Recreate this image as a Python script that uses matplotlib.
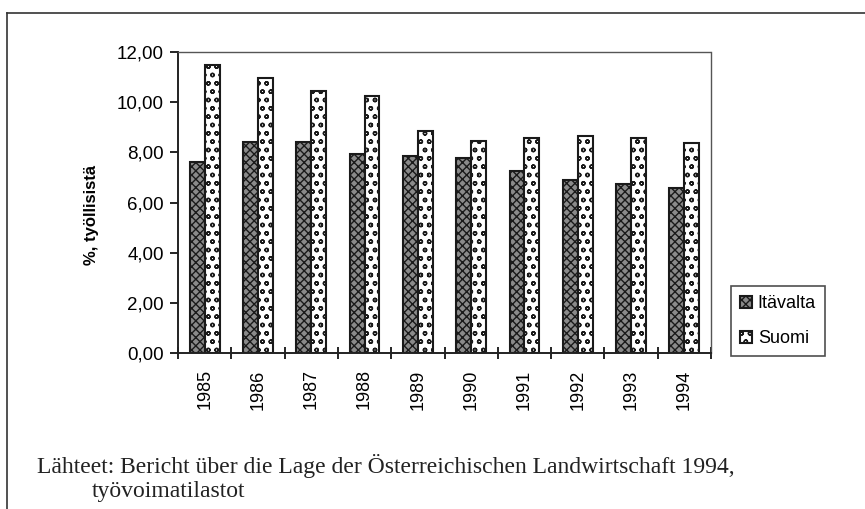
import numpy as np
import matplotlib
matplotlib.use("Agg")
import matplotlib.pyplot as plt
from matplotlib.lines import Line2D

# data
years = ["1985", "1986", "1987", "1988", "1989",
         "1990", "1991", "1992", "1993", "1994"]
itavalta = [7.60, 8.41, 8.41, 7.92, 7.84, 7.76, 7.25, 6.89, 6.75, 6.59]
suomi = [11.48, 10.96, 10.45, 10.23, 8.85, 8.45, 8.56, 8.65, 8.57, 8.36]
yticks = [0, 2, 4, 6, 8, 10, 12]

plt.rcParams['font.family'] = ['Liberation Sans', 'DejaVu Sans']
plt.rcParams['hatch.linewidth'] = 1.0

W, H = 865, 509
fig = plt.figure(figsize=(W / 100, H / 100), dpi=100)
ax = fig.add_axes([178 / W, 1 - 353 / H, (711 - 178) / W, (353 - 52) / H])

x = np.arange(len(years))
bw = 0.28
ax.bar(x - bw / 2, itavalta, bw, facecolor='#8a8a8a', edgecolor='#1a1a1a',
       hatch='xxxx', linewidth=1.5, label='Itävalta')
ax.bar(x + bw / 2, suomi, bw, facecolor='white', edgecolor='#1a1a1a',
       hatch='oo', linewidth=1.5, label='Suomi')

ax.set_xlim(-0.5, len(years) - 0.5)
ax.set_ylim(0, 12)
ax.set_yticks(yticks)
ax.set_yticklabels([f"{v:.2f}".replace('.', ',') for v in yticks], fontsize=13.5)
ax.tick_params(axis='y', direction='out', length=6, width=1.2, pad=4)

# x ticks sit on the category boundaries, labels at the centres
ax.set_xticks(np.arange(len(years) + 1) - 0.5)
ax.set_xticklabels([])
ax.tick_params(axis='x', direction='inout', length=9, width=1.2)
for i, yr in enumerate(years):
    ax.text(i, -0.65, yr, rotation=90, ha='center', va='top', fontsize=13,
            transform=ax.transData)

for s in ['left', 'bottom']:
    ax.spines[s].set_linewidth(1.4)
    ax.spines[s].set_color('#222222')
for s in ['top', 'right']:
    ax.spines[s].set_linestyle((0, (1, 1)))
    ax.spines[s].set_color('#555555')
    ax.spines[s].set_linewidth(1.0)

ax.set_ylabel('%, työllisistä', fontsize=12, fontweight='bold')
ax.yaxis.set_label_coords(-0.148, 0.46)

leg = ax.legend(loc='center left', bbox_to_anchor=(1.02, 0.105), fontsize=13,
                frameon=True, fancybox=False, edgecolor='#222222',
                handlelength=0.7, handleheight=0.7, handletextpad=0.3,
                labelspacing=1.0, borderpad=0.5)
leg.get_frame().set_linewidth(1.2)

# outer frame (partly cropped in the scan)
fig.add_artist(Line2D([7 / W, 1], [1 - 13 / H, 1 - 13 / H], color='#333333', lw=1.2))
fig.add_artist(Line2D([7 / W, 7 / W], [1 - 13 / H, 0], color='#333333', lw=1.2))

serif = ['Liberation Serif', 'DejaVu Serif']
fig.text(37 / W, 1 - 466 / H, 'Lähteet: Bericht über die Lage der Österreichischen Landwirtschaft 1994,',
         family=serif, fontsize=17, va='center', ha='left', color='#222222')
fig.text(92 / W, 1 - 492 / H, 'työvoimatilastot',
         family=serif, fontsize=17, va='center', ha='left', color='#222222')

fig.savefig('out.png', dpi=100)
